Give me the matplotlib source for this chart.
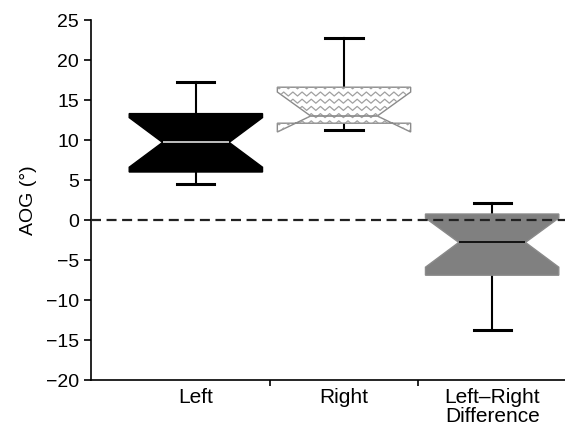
import numpy as np
import matplotlib.pyplot as plt
from matplotlib.lines import Line2D

plt.rcParams['font.family'] = ['Liberation Sans', 'DejaVu Sans']

# box statistics (degrees)
labels = ["Left", "Right", "Left\u2013Right\nDifference"]
whislo = [4.5, 11.2, -13.8]
q1 = [6.0, 12.1, -6.9]
cilo = [6.6, 11.0, -5.9]
med = [9.7, 13.0, -2.8]
cihi = [12.8, 16.0, 0.25]
q3 = [13.3, 16.6, 0.75]
whishi = [17.3, 22.8, 2.1]

face = ["black", "white", "#808080"]
edge = ["black", "#8a8a8a", "#8a8a8a"]
med_col = ["#e0e0e0", "#8a8a8a", "black"]

stats = []
for i in range(3):
    stats.append(dict(label=labels[i], whislo=whislo[i], q1=q1[i], cilo=cilo[i],
                      med=med[i], cihi=cihi[i], q3=q3[i], whishi=whishi[i], fliers=[]))

fig = plt.figure(figsize=(5.65, 4.33), dpi=100)
ax = fig.add_axes([0.1605, 0.1224, 0.839, 0.8314])

pos = np.arange(3)
bp = ax.bxp(stats, positions=pos, widths=0.9, shownotches=True, patch_artist=True,
            showfliers=False, capwidths=[0.25] * 3,
            whiskerprops=dict(color="black", lw=1.5),
            capprops=dict(color="black", lw=2.2))

for i, box in enumerate(bp['boxes']):
    box.set_facecolor(face[i])
    box.set_edgecolor(edge[i])
    box.set_linewidth(1.0)
    box.set_zorder(3)
for i, m in enumerate(bp['medians']):
    m.set_color(med_col[i])
    m.set_linewidth(1.2)
    m.set_zorder(4)

# zigzag hatch on the "Right" box, clipped to its notched outline
box = bp['boxes'][1]
xs = np.arange(pos[1] - 0.5, pos[1] + 0.5 + 0.08, 0.031)
for yrow in np.arange(q1[1] - 2.0, q3[1] + 1.5, 0.9):
    ys = yrow + np.where(np.arange(len(xs)) % 2 == 0, 0.0, 0.5)
    ln = Line2D(xs, ys, color="#a0a0a0", lw=0.9, zorder=3.5)
    ax.add_line(ln)
    ln.set_clip_path(box)

ax.axhline(0, color="#222222", lw=1.6, ls=(0, (4.5, 2.5)), zorder=5)

ax.set_xlim(-0.71, 2.49)
ax.set_ylim(-20, 25)
ax.set_yticks(np.arange(-20, 26, 5))
ax.set_yticklabels([str(v).replace("-", "\u2212") for v in range(-20, 26, 5)])
ax.set_xticks(pos)
ax.set_xticklabels(labels, fontsize=15, linespacing=1.0)
ax.set_xticks([0.5, 1.5], minor=True)
ax.tick_params(axis="x", which="major", length=0, pad=6)
ax.tick_params(axis="x", which="minor", length=4, width=1.2)
ax.tick_params(axis="y", length=5, width=1.2, labelsize=14)
ax.set_ylabel("AOG (\u00b0)", fontsize=14, labelpad=6)

for s in ["top", "right"]:
    ax.spines[s].set_visible(False)
for s in ["left", "bottom"]:
    ax.spines[s].set_linewidth(1.2)

plt.savefig("out.png", dpi=100)
plt.close()
